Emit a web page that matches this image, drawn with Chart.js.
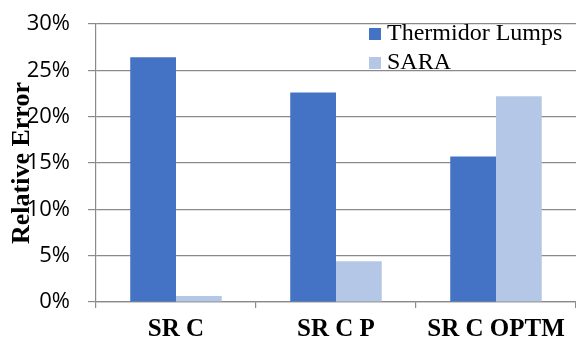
<!DOCTYPE html>
<html>
<head>
<meta charset="utf-8">
<style>
  html, body { margin: 0; padding: 0; background: #fff; }
  #wrap { width: 576px; height: 340px; }
</style>
<script src="https://cdn.jsdelivr.net/npm/chart.js@4/dist/chart.umd.min.js"></script>
</head>
<body>
<div id="wrap"><canvas id="errChart" width="576" height="340"></canvas></div>
<script>
// Relative error per method
const categories = ['SR C', 'SR C P', 'SR C OPTM'];
const thermidorLumps = [26.4, 22.6, 15.7];
const sara = [0.65, 4.4, 22.2];
const yTicks = [0, 5, 10, 15, 20, 25, 30];

const gridColor = '#8a8a8a';

// legend drawn inside the plot, top right
const innerLegend = {
  id: 'innerLegend',
  afterDraw(chart) {
    const ctx = chart.ctx;
    ctx.save();
    ctx.font = '24px "Liberation Serif", "Times New Roman", serif';
    ctx.textBaseline = 'middle';
    chart.data.datasets.forEach((ds, i) => {
      const y = 34 + i * 29;
      ctx.fillStyle = ds.backgroundColor;
      ctx.fillRect(369, y - 6, 12, 12);
      ctx.fillStyle = '#000';
      ctx.fillText(ds.label, 387, y);
    });
    ctx.restore();
  }
};

// y title overlaps the tick labels, like the original
const yTitle = {
  id: 'yTitle',
  afterDraw(chart) {
    const ctx = chart.ctx;
    const area = chart.chartArea;
    ctx.save();
    ctx.translate(22, (area.top + area.bottom) / 2);
    ctx.rotate(-Math.PI / 2);
    ctx.font = 'bold 26px "Liberation Serif", "Times New Roman", serif';
    ctx.textAlign = 'center';
    ctx.textBaseline = 'middle';
    ctx.fillStyle = '#000';
    ctx.fillText('Relative Error', 0, 0);
    ctx.restore();
  }
};

const ctx = document.getElementById('errChart').getContext('2d');
new Chart(ctx, {
  type: 'bar',
  data: {
    labels: categories,
    datasets: [{
      label: 'Thermidor Lumps',
      data: thermidorLumps,
      backgroundColor: '#4472C4',
      borderWidth: 0
    }, {
      label: 'SARA',
      data: sara,
      backgroundColor: '#B4C7E7',
      borderWidth: 0
    }]
  },
  options: {
    responsive: false,
    animation: false,
    layout: { padding: { top: 24, right: 0, left: 0, bottom: 0 } },
    categoryPercentage: 0.572,
    barPercentage: 1.0,
    plugins: {
      legend: { display: false },
      tooltip: { enabled: false }
    },
    scales: {
      x: {
        grid: {
          drawOnChartArea: false,
          drawTicks: true,
          tickLength: 6,
          color: gridColor,
          lineWidth: 1.2
        },
        border: { color: gridColor, width: 1.2 },
        ticks: {
          padding: 7,
          color: '#000',
          font: { family: '"Liberation Serif", "Times New Roman", serif', size: 25, weight: 'bold' }
        },
        afterFit(scale) { scale.height = 38; }
      },
      y: {
        min: 0,
        max: 30,
        afterBuildTicks(scale) {
          scale.ticks = yTicks.map(v => ({ value: v }));
        },
        grid: {
          color: gridColor,
          lineWidth: 1.2,
          tickLength: 8
        },
        border: { color: gridColor, width: 1.2 },
        ticks: {
          padding: 18,
          color: '#000',
          font: { family: '"Open Sans", "Noto Sans", sans-serif', size: 22 },
          callback: v => v + '%'
        },
        afterFit(scale) {
          scale.width = 96;
          // tick padding should not push the plot down
          scale.paddingTop = 0;
          scale.paddingBottom = 0;
        }
      }
    }
  },
  plugins: [innerLegend, yTitle]
});
</script>
</body>
</html>
